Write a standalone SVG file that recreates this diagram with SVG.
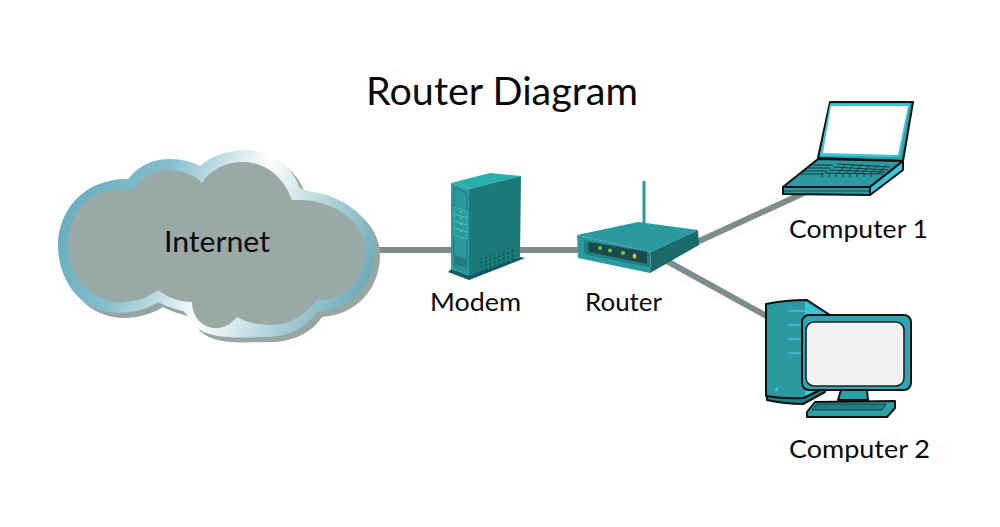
<svg xmlns="http://www.w3.org/2000/svg" width="1000" height="527" viewBox="0 0 1000 527">
<style>
text{font-family:"Lato","Liberation Sans",sans-serif;fill:#0a0a0a}
.t{font-size:25px}
.c{fill:none;stroke:#7f8c8c;stroke-width:6}
.k{stroke:#111;stroke-width:2;stroke-linejoin:round}
.ln{fill:none;stroke:#5fd0dc;stroke-width:1}
</style>
<defs>
<linearGradient id="cg" gradientUnits="userSpaceOnUse" x1="59" y1="164" x2="368" y2="304">
<stop offset="0" stop-color="#5fa9bb"/><stop offset=".3" stop-color="#85bdcb"/><stop offset=".56" stop-color="#ffffff"/><stop offset=".8" stop-color="#a6ccd5"/><stop offset="1" stop-color="#64a6b3"/>
</linearGradient>
<pattern id="gr" width="4.4" height="4" patternUnits="userSpaceOnUse" patternTransform="skewY(-20)"><circle cx="2" cy="2" r="1.1" fill="#0f4f50"/></pattern>
<path id="cl" d="M128,179C138,166 152,159 170,159C182,159 193,162 200,166C212,155 230,150 247,150C272,150 292,166 300,188C310,193 322,192 332,197C360,208 375,228 375,250C375,285 350,310 317,312C305,330 285,337 265,337C245,337 210,341 195,326C190,319 187,314 183,311C175,309 165,306 158,302C146,310 130,313 118,313C80,312 58,280 58,245C58,210 85,178 128,179Z"/>
</defs>
<g id="connectors">
<path class="c" d="M370,250H585"/>
<path class="c" d="M695,243L806,192"/>
<path class="c" d="M665,260L770,318"/>
</g>
<text x="502" y="105" text-anchor="middle" font-size="38" textLength="272" lengthAdjust="spacingAndGlyphs">Router Diagram</text>
<g id="internet">
<use href="#cl" fill="#97a5a5" transform="translate(5,5)"/>
<use href="#cl" fill="url(#cg)"/>
<path fill="#9aa8a6" d="M133,190C142,177 155,170 167,170C182,170 195,175 202,183C210,170 225,162 243,162C268,162 285,180 292,200C296,200 300,200 303,200C335,202 365,222 365,250C365,280 345,300 317,300C305,315 290,325 272,325C258,325 245,322 237,317C230,325 222,329 213,328C200,326 192,315 192,302C180,302 168,298 158,290C148,298 135,302 120,302C90,302 68,275 68,245C68,215 88,190 117,190C122,190 128,190 133,190Z"/>
<text x="217" y="252" text-anchor="middle" font-size="28" textLength="106" lengthAdjust="spacingAndGlyphs">Internet</text>
</g>
<g id="modem">
<path fill="#0f5a5c" d="M448,272L451,269L469,275L520,257L525,258L469,280Z"/>
<path fill="#2aafaf" d="M451,183L490,173L521,176L469,189Z"/>
<path fill="#1c7b79" d="M469,189L521,176L520,257L469,276Z"/>
<path fill="#2a9aa0" d="M451,183L469,189V276L451,269Z"/>
<path fill="none" stroke="#1d7f82" stroke-width="1.2" d="M454,190Q454,187 458,189L463,191Q467,193 467,197V268Q467,271 463,270L458,268Q454,267 454,263Z"/>
<path fill="#2a9aa0" stroke="#45c2bd" stroke-width=".7" d="M454,207L467,211V218L454,214ZM454,214L467,218V225L454,221ZM454,221L467,225V232L454,228ZM454,228L467,232V239L454,235Z"/>
<g fill="#7ed04a"><circle cx="461" cy="212" r=".9"/><circle cx="461" cy="218" r=".9"/><circle cx="461" cy="224" r=".9"/><circle cx="461" cy="231" r=".9"/></g>
<path fill="#24807f" d="M455,255L466,258V268L455,265Z"/>
<path fill="url(#gr)" d="M479,259L515,247V259L481,272Z"/>
<text x="475.500" y="311" text-anchor="middle" class="t" textLength="91" lengthAdjust="spacingAndGlyphs">Modem</text>
</g>
<g id="router">
<rect x="642.500" y="181" width="3" height="44" fill="#2a9aa0"/>
<path fill="#2a9aa0" d="M577,235L638,222L698,230L651,252Z"/>
<path fill="#2a9aa0" d="M577,235L651,252L650,273L578,258Z"/>
<path fill="#1b6b6d" d="M651,252L698,230L699,245L650,273Z"/>
<path fill="#1e7f85" d="M584,240L647,251Q650,252 650,256V267L588,255Q584,254 584,250Z"/>
<path fill="#1c4a4c" d="M588,242L647,252V264L589,252Z"/>
<g fill="#6cc83f"><circle cx="600" cy="248" r="2"/><circle cx="610" cy="250.500" r="2"/><circle cx="623" cy="253" r="2"/></g>
<ellipse cx="634.500" cy="256" rx="1.800" ry="2.500" fill="#f0c419"/>
<text x="623.500" y="311" text-anchor="middle" class="t" textLength="77" lengthAdjust="spacingAndGlyphs">Router</text>
</g>
<g id="computer1">
<path class="k" fill="#2aa0a5" d="M830,102L913,102L903,161L818,158Z"/>
<path fill="#3fc4d4" d="M830,103.500L910,103.500L900,157L820,156Z"/>
<path fill="#fff" d="M831,106L908,106L898,155L823,153Z"/>
<path class="k" fill="#2a9aa0" d="M818,159L903,161L870,187L783,187Z"/>
<path class="k" fill="#2a9aa0" d="M783,187L870,187V195L783,194Z"/>
<path class="k" fill="#3fc4d4" d="M870,187L903,161V170L870,195Z"/>
<path fill="none" stroke="#10383a" stroke-width="1" d="M812,165H833M808,168H830M804,171H827M798,174H824M837,164L890,167M833,167L888,170M829,170L885,172M825,173L883,174M822,173V177M829,173V177M836,173V177M843,173V177M850,173V177M857,173V177M864,173V177M871,173V177M886,165L878,174M878,165L870,174M870,165L862,174M862,164L854,174M854,164L846,174M846,164L838,174"/>
<path fill="none" stroke="#10383a" stroke-width=".8" d="M784,191H869"/>
<text x="858.500" y="238" text-anchor="middle" class="t" textLength="139" lengthAdjust="spacingAndGlyphs">Computer 1</text>
</g>
<g id="computer2">
<path class="k" fill="#1f7f84" d="M767,396L767,400Q785,404 803,404L825,392V385L767,392Z"/>
<path class="k" fill="#2a9aa0" d="M766,304Q785,300 807,300L830,315V385L804,398Q785,399 766,396Z"/>
<path fill="#3fc4d4" d="M805,301.500L829,316L820,345V388L805,396Z"/>
<path class="ln" d="M788,311H805M788,325H805M788,339H805M788,353H805"/>
<ellipse cx="776.500" cy="389.500" rx="1.500" ry="2" fill="#3fc4d4"/>
<path class="k" fill="#2aa0a8" d="M841,390H867L868,400H838Z"/>
<rect class="k" x="802" y="315" width="109" height="75" rx="7" fill="#2ea7b4"/>
<rect x="806" y="322" width="98" height="64" rx="8" fill="#f1f1f1" stroke="#222" stroke-width="1.600"/>
<path class="k" fill="#2aa0a8" d="M815,402L895,401V408L887,417H807V412Z"/>
<path fill="#1f7f84" stroke="#111" stroke-width=".6" d="M817,404L886,404L882,410H812Z"/>
<text x="859.500" y="458" text-anchor="middle" class="t" textLength="141" lengthAdjust="spacingAndGlyphs">Computer 2</text>
</g>
</svg>
